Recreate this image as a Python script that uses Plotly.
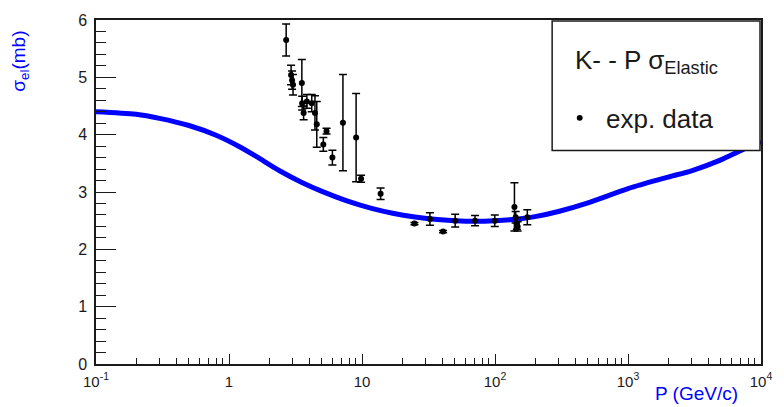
import plotly.graph_objects as go

# Model curve: K- p elastic cross section vs beam momentum
curve_p = [0.1, 0.2, 0.3, 0.5, 0.8, 1.2, 1.6, 2.4, 3.5, 5.0, 7.6, 12, 17, 25, 35,
           50, 70, 100, 150, 200, 300, 500, 1000, 2000, 3000, 5000, 7000, 10000]
curve_sigma = [4.40, 4.355, 4.285, 4.16, 3.99, 3.79, 3.62, 3.37, 3.17, 3.01, 2.85,
               2.71, 2.63, 2.565, 2.525, 2.50, 2.49, 2.50, 2.53, 2.57, 2.66, 2.81,
               3.06, 3.26, 3.37, 3.56, 3.72, 3.88]

# Experimental data points (momentum, cross section, error)
data_p = [2.69, 2.93, 2.98, 3.03, 3.53, 3.55, 3.64, 3.85, 4.19, 4.43, 4.57, 5.12,
          5.41, 5.99, 7.19, 9.03, 9.84, 13.8, 24.8, 32.4, 40.7, 50.2, 70.8, 99.6,
          140, 143, 146, 148, 175]
data_sigma = [5.65, 5.04, 4.95, 4.87, 4.90, 4.55, 4.38, 4.58, 4.55, 4.38, 4.18, 3.83,
              4.06, 3.60, 4.21, 3.95, 3.23, 2.97, 2.45, 2.53, 2.31, 2.50, 2.50, 2.50,
              2.74, 2.56, 2.45, 2.40, 2.56]
data_err = [0.28, 0.17, 0.16, 0.18, 0.41, 0.12, 0.12, 0.12, 0.15, 0.30, 0.40, 0.12,
            0.05, 0.13, 0.84, 0.77, 0.06, 0.10, 0.02, 0.11, 0.02, 0.11, 0.09, 0.10,
            0.42, 0.10, 0.10, 0.08, 0.13]

x_tickvals = [0.1, 1, 10, 100, 1000, 10000]
x_ticktext = ["10<sup>-1</sup>", "1", "10", "10<sup>2</sup>", "10<sup>3</sup>", "10<sup>4</sup>"]

W, H = 784, 407
L, R, T, B = 96, 13, 16, 43
pw, ph = W - L - R, H - T - B


def px(x):
    return (x - L) / pw


def py(y):
    return (H - B - y) / ph


FONT = "Liberation Sans, Arial, Helvetica, sans-serif"
BLUE = "#0000ff"
INK = "#1a1a1a"

fig = go.Figure()

fig.add_trace(go.Scatter(
    x=curve_p, y=curve_sigma, mode="lines",
    line=dict(color=BLUE, width=5, shape="spline", smoothing=0.8),
    showlegend=False, hoverinfo="skip",
))

fig.add_trace(go.Scatter(
    x=data_p, y=data_sigma, mode="markers",
    marker=dict(color="black", size=6),
    error_y=dict(type="data", array=data_err, color="black", thickness=1.5, width=4),
    showlegend=False,
))

fig.update_layout(
    width=W, height=H,
    margin=dict(l=L, r=R, t=T, b=B, pad=0),
    paper_bgcolor="white", plot_bgcolor="white",
    font=dict(family=FONT, color=INK, size=15),
    showlegend=False,
)

fig.update_xaxes(
    type="log", range=[-1, 4],
    tickmode="array", tickvals=x_tickvals, ticktext=x_ticktext,
    ticks="inside", ticklen=10, tickwidth=1, tickcolor=INK,
    minor=dict(ticks="inside", ticklen=6, tickwidth=1, tickcolor=INK,
               dtick="D1", showgrid=False),
    showline=True, linecolor=INK, linewidth=1.5, mirror=True,
    showgrid=False, zeroline=False,
    tickfont=dict(size=15, color=INK),
    ticklabelstandoff=3,
)

fig.update_yaxes(
    range=[0, 6], dtick=1,
    ticks="inside", ticklen=20, tickwidth=1, tickcolor=INK,
    minor=dict(ticks="inside", ticklen=10, tickwidth=1, tickcolor=INK,
               dtick=0.2, showgrid=False),
    showline=True, linecolor=INK, linewidth=1.5, mirror=True,
    showgrid=False, zeroline=False,
    tickfont=dict(size=16, color=INK),
    ticklabelstandoff=4,
)

# Axis titles
fig.add_annotation(
    x=px(750), y=py(394), xref="paper", yref="paper",
    text="P (GeV/c)", showarrow=False, xanchor="right", yanchor="middle",
    font=dict(size=19, color=BLUE, family=FONT),
)
fig.add_annotation(
    x=px(18), y=py(58), xref="paper", yref="paper",
    text="σ<sub>el</sub>(mb)", showarrow=False, textangle=-90,
    xanchor="center", yanchor="middle",
    font=dict(size=19, color=BLUE, family=FONT),
)

# Legend box
fig.add_shape(
    type="rect", xref="paper", yref="paper",
    x0=px(559), x1=px(770), y0=py(148), y1=py(17),
    line=dict(color=INK, width=1.5), fillcolor="white", layer="above",
)
fig.add_annotation(
    x=px(580), y=py(58), xref="paper", yref="paper",
    text="K- - P σ<sub>Elastic</sub>", showarrow=False,
    xanchor="left", yanchor="middle",
    font=dict(size=26, color=INK, family=FONT),
)
fig.add_annotation(
    x=px(612), y=py(116), xref="paper", yref="paper",
    text="exp. data", showarrow=False, xanchor="left", yanchor="middle",
    font=dict(size=26, color=INK, family=FONT),
)
fig.add_shape(
    type="circle", xref="paper", yref="paper",
    x0=px(584), x1=px(590), y0=py(118), y1=py(112),
    line=dict(color="black", width=0), fillcolor="black", layer="above",
)

fig.write_html("out.html")
